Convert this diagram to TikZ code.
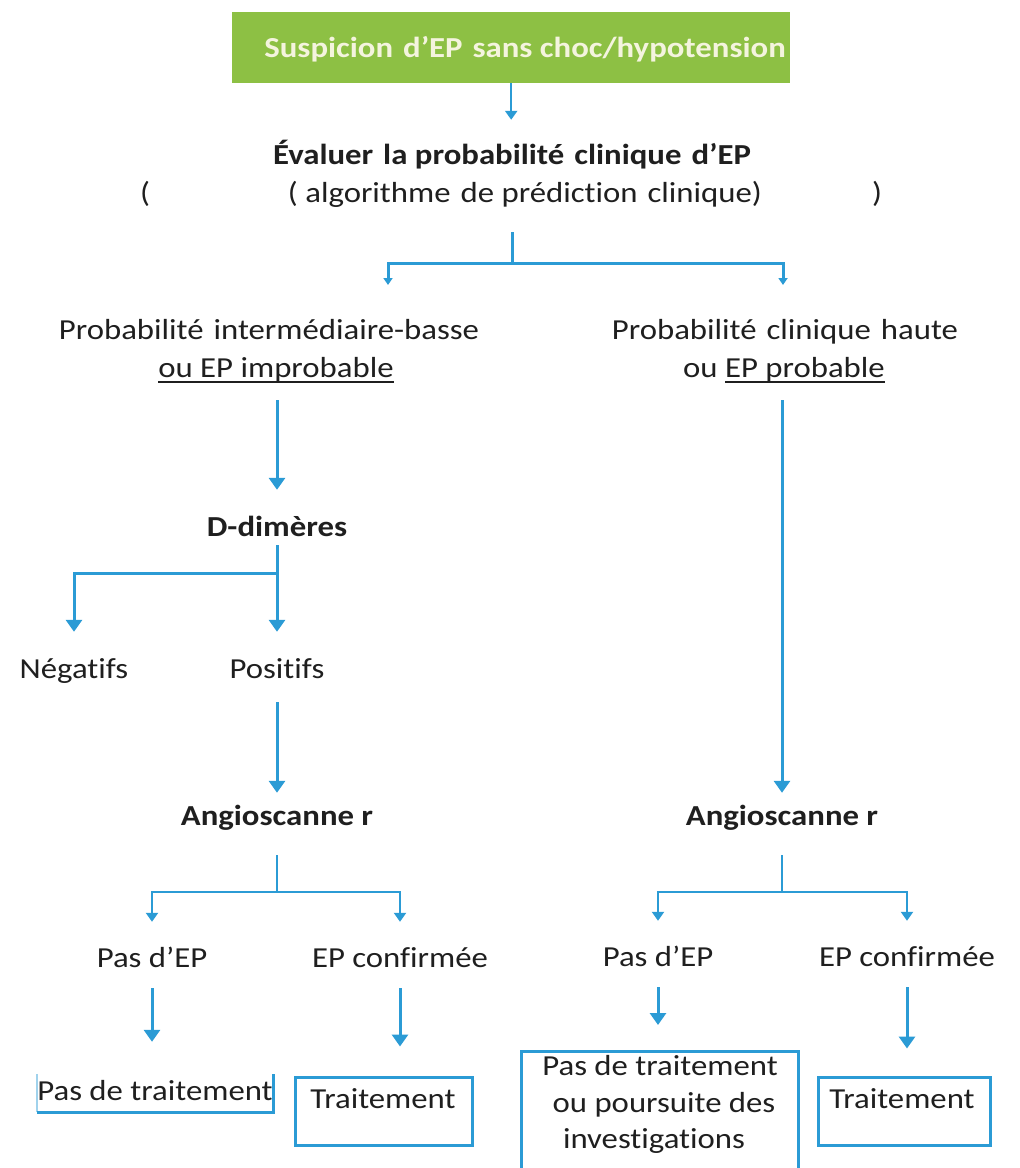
\documentclass[tikz,border=0pt]{standalone}
\usepackage{fontspec}
\setmainfont{Carlito}[FakeStretch=1.13, Ligatures=NoCommon]
\usetikzlibrary{arrows.meta}

\definecolor{flowblue}{HTML}{2B9BD5}
\definecolor{leafgreen}{HTML}{8DC044}
\definecolor{inkgray}{HTML}{1F1F1F}
\definecolor{cream}{HTML}{F4F4DE}

% thick underline drawn below a piece of text
\newsavebox\ulbox
\newcommand\souligne[1]{\sbox\ulbox{#1}\rlap{\rule[-6pt]{\wd\ulbox}{2.4pt}}\usebox\ulbox}
\newcommand\gap{\hspace{10pt}}

\begin{document}
\begin{tikzpicture}[x=1pt,y=-1pt,
  txt/.style={font=\fontsize{29}{35}\selectfont, text=inkgray, inner sep=0pt,
              text height=20pt, text depth=6pt, anchor=base},
  txtb/.style={txt, font=\fontsize{29}{35}\selectfont\bfseries},
  ln/.style={draw=flowblue, line width=3pt},
  lnthin/.style={draw=flowblue, line width=2.5pt},
  arrbig/.style={ln, -{Triangle[width=16pt,length=12pt]}},
  arrmid/.style={lnthin, -{Triangle[width=12pt,length=9pt]}},
  arrsmall/.style={lnthin, -{Triangle[width=9pt,length=7pt]}},
  boxed/.style={draw=flowblue, line width=3pt, inner sep=0pt},
]
\useasboundingbox (0,0) rectangle (1020,1168);
\clip (0,0) rectangle (1020,1168);

% --- header box
\node[fill=leafgreen, minimum width=558pt, minimum height=71pt, inner sep=0pt,
      anchor=north west] (start) at (232,12) {};
\node[txtb, text=cream] (starttxt) at (525,57) {Suspicion\gap d’EP\gap sans choc/hypotension};

% --- clinical probability assessment
\node[txtb] (ev1) at (512,164) {Évaluer\gap la probabilité\gap clinique\gap d’EP};
\node[txt] (ev2) at (525,202) {( algorithme\gap de prédiction\gap clinique)};
\node[txt] (lpar) at (145,202) {(};
\node[txt] (rpar) at (877,202) {)};
\draw[arrmid, shorten >=24pt] (start.south) -- (start.south |- ev1.north);

% --- first split
\coordinate (j1) at (512,263);
\coordinate (t1) at (388,285);
\coordinate (t2) at (783,285);
\draw[ln, shorten <=24pt] (ev1 |- ev2.south) -- (j1);
\draw[arrsmall, line width=3pt] (j1) -| (t1);
\draw[arrsmall, line width=3pt] (j1) -| (t2);

\node[txt] (pl1) at (269,339) {Probabilité\gap intermédiaire-basse};
\node[txt] (pl2) at (276,377) {\souligne{ou EP improbable}};
\node[txt] (pr1) at (785,339) {Probabilité\gap clinique\gap haute};
\node[txt] (pr2) at (784,377) {ou \souligne{EP probable}};

% --- left branch: D-dimers
\node[txtb] (dd) at (277,536) {D-dimères};
\draw[arrbig, shorten <=17pt, shorten >=26pt] (dd |- pl2.south) -- (dd.north);

\coordinate (j2) at (277,573);
\node[txt] (neg) at (74,678) {Négatifs};
\node[txt] (pos) at (277,678) {Positifs};
\draw[ln, shorten <=3pt] (dd.south) -- (j2);
\draw[arrbig, shorten >=26pt] (j2) -- (pos.north);
\draw[arrbig, shorten >=26pt] (j2) -| (neg.north);

\node[txtb] (ang1) at (277,825) {Angioscanne r};
\draw[arrbig, shorten <=18pt, shorten >=12pt] (pos.south) -- (ang1.north);

% --- right branch
\node[txtb] (ang2) at (782,825) {Angioscanne r};
\draw[arrbig, shorten <=17pt, shorten >=12pt] (ang2 |- pr2.south) -- (ang2.north);

% --- CT results, left
\coordinate (j3) at (277,892);
\node[txt] (pe1) at (152,967) {Pas d’EP};
\node[txt] (ec1) at (400,967) {EP confirmée};
\draw[lnthin, shorten <=24pt] (ang1.south) -- (j3);
\draw[arrmid, shorten >=25pt] (j3) -| (pe1.north);
\draw[arrmid, shorten >=25pt] (j3) -| (ec1.north);

\node[txt, minimum width=236pt, minimum height=38pt] (ptl) at (155,1100) {Pas de traitement};
\draw[draw=flowblue!45, line width=2.5pt] (ptl.north west) -- (ptl.south west);
\draw[draw=flowblue, line width=3pt] (ptl.south west) -- (ptl.south east) -- (ptl.north east);

\node[boxed, minimum width=177pt, minimum height=68pt] (tr1) at (383.5,1111) {};
\node[txt] (tr1t) at (383,1108) {Traitement};

\draw[arrbig, shorten <=15pt, shorten >=32pt] (pe1.south) -- (pe1 |- ptl.north);
\draw[arrbig, shorten <=15pt, shorten >=29pt] (ec1.south) -- (ec1 |- tr1.north);

% --- CT results, right
\coordinate (j4) at (782,892);
\node[txt] (pe2) at (658,966) {Pas d’EP};
\node[txt] (ec2) at (907,966) {EP confirmée};
\draw[lnthin, shorten <=24pt] (ang2.south) -- (j4);
\draw[arrmid, shorten >=25pt] (j4) -| (pe2.north);
\draw[arrmid, shorten >=25pt] (j4) -| (ec2.north);

\node[boxed, minimum width=277pt, minimum height=170pt, anchor=north] (ptr) at (659.5,1050) {};
\node[txt] (ptr1) at (660,1075) {Pas de traitement};
\node[txt] (ptr2) at (664,1112) {ou poursuite des};
\node[txt] (ptr3) at (654,1148) {investigations};

\node[boxed, minimum width=172pt, minimum height=68pt] (tr2) at (904,1111) {};
\node[txt] (tr2t) at (902,1108) {Traitement};

\draw[arrbig, shorten <=15pt, shorten >=25pt] (pe2.south) -- (pe2 |- ptr.north);
\draw[arrbig, shorten <=15pt, shorten >=27pt] (ec2.south) -- (ec2 |- tr2.north);
\end{tikzpicture}
\end{document}
